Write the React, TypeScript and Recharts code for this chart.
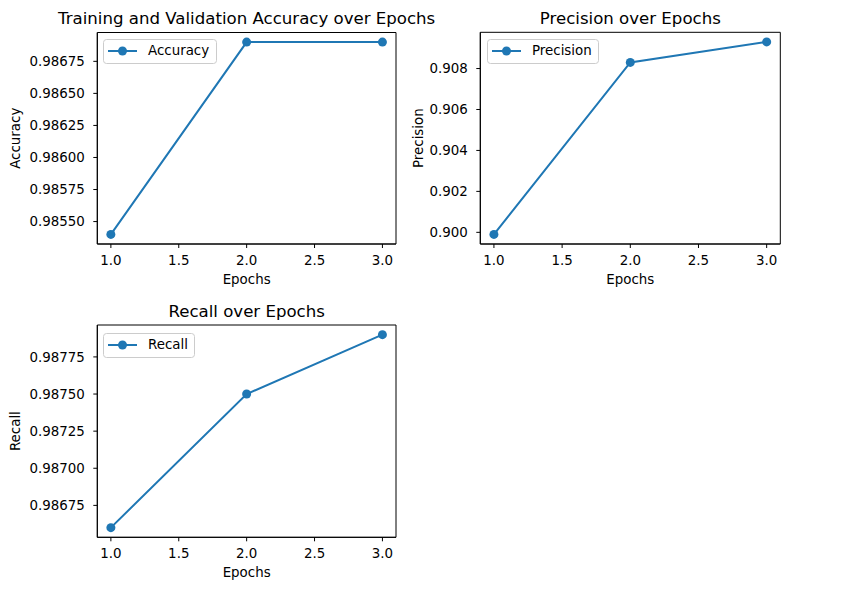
import React from 'react';
import { LineChart, Line, XAxis, YAxis, Legend, ReferenceArea } from 'recharts';

const epochs = [1, 2, 3];
const accuracy = [0.9854, 0.9869, 0.9869];
const precision = [0.8999, 0.9083, 0.9093];
const recall = [0.9866, 0.9875, 0.9879];

const xTicks = [1.0, 1.5, 2.0, 2.5, 3.0];
const accuracyTicks = [0.9855, 0.98575, 0.986, 0.98625, 0.9865, 0.98675];
const precisionTicks = [0.9, 0.902, 0.904, 0.906, 0.908];
const recallTicks = [0.98675, 0.987, 0.98725, 0.9875, 0.98775];

const W = 862;
const H = 598;
const FONT = "'DejaVu Sans', sans-serif";
const BLUE = '#1f77b4';
const TICK_FS = 13.4;
const TITLE_FS = 16.6;

type Box = { left: number; top: number; right: number; bottom: number };

interface PanelProps {
  values: number[];
  ticks: number[];
  decimals: number;
  box: Box;
  name: string;
  legend: { left: number; top: number; width: number };
}

function Panel({ values, ticks, decimals, box, name, legend }: PanelProps) {
  const data = epochs.map((e, i) => ({ epoch: e, value: values[i] }));
  const lo = Math.min(...values);
  const hi = Math.max(...values);
  const r = hi - lo;
  const yDomain: [number, number] = [lo - 0.05 * r, hi + 0.05 * r];
  const xDomain: [number, number] = [0.9, 3.1];
  const xAxisH = 30;
  const margin = {
    top: box.top,
    left: 0,
    right: W - box.right,
    bottom: H - box.bottom - xAxisH,
  };
  const tickStyle = { fill: '#000', fontSize: TICK_FS, fontFamily: FONT };
  const legendContent = () => (
    <svg width={legend.width} height={25} style={{ display: 'block' }}>
      <rect
        x={0.5}
        y={0.5}
        width={legend.width - 1}
        height={24}
        rx={3}
        fill="rgba(255,255,255,0.8)"
        stroke="#cccccc"
        strokeWidth={1}
      />
      <line x1={5} x2={34} y1={12} y2={12} stroke={BLUE} strokeWidth={2} />
      <circle cx={19.5} cy={12} r={4.5} fill={BLUE} />
      <text x={45} y={15.8} fontSize={TICK_FS} fontFamily={FONT} fill="#000">
        {name}
      </text>
    </svg>
  );
  return (
    <div style={{ position: 'absolute', left: 0, top: 0, width: W, height: H }}>
      <LineChart width={W} height={H} data={data} margin={margin}>
        <XAxis
          type="number"
          dataKey="epoch"
          domain={xDomain}
          ticks={xTicks}
          tickFormatter={(v: number) => v.toFixed(1)}
          height={xAxisH}
          tickSize={4}
          tickMargin={7}
          stroke="#000"
          tick={tickStyle}
          allowDataOverflow
          interval={0}
        />
        <YAxis
          type="number"
          domain={yDomain}
          ticks={ticks}
          tickFormatter={(v: number) => v.toFixed(decimals)}
          width={box.left}
          tickSize={4}
          tickMargin={8.5}
          stroke="#000"
          tick={tickStyle}
          allowDataOverflow
          interval={0}
        />
        <ReferenceArea
          x1={xDomain[0]}
          x2={xDomain[1]}
          y1={yDomain[0]}
          y2={yDomain[1]}
          fill="none"
          fillOpacity={0}
          stroke="#000"
          strokeWidth={1}
          strokeOpacity={1}
          ifOverflow="visible"
        />
        <Line
          type="linear"
          dataKey="value"
          name={name}
          stroke={BLUE}
          strokeWidth={2}
          dot={{ r: 4.5, fill: BLUE, stroke: BLUE, strokeWidth: 0 }}
          activeDot={false}
          isAnimationActive={false}
        />
        <Legend
          content={legendContent}
          layout="horizontal"
          verticalAlign="middle"
          align="center"
          wrapperStyle={{
            position: 'absolute',
            left: legend.left,
            top: legend.top,
            width: legend.width,
            height: 25,
          }}
        />
      </LineChart>
    </div>
  );
}

const box1: Box = { left: 97.3, top: 32.5, right: 396, bottom: 244 };
const box2: Box = { left: 480.3, top: 32.3, right: 780.3, bottom: 244 };
const box3: Box = { left: 97.3, top: 325, right: 396, bottom: 537.3 };

function Labels() {
  const t = (box: Box, title: string, ylabel: string, ylabelX: number) => {
    const cx = (box.left + box.right) / 2;
    const cy = (box.top + box.bottom) / 2;
    return (
      <g>
        <text x={cx} y={box.top - 8.5} textAnchor="middle" fontSize={TITLE_FS} fontFamily={FONT} fill="#000">
          {title}
        </text>
        <text x={cx} y={box.bottom + 40} textAnchor="middle" fontSize={TICK_FS} fontFamily={FONT} fill="#000">
          Epochs
        </text>
        <text
          transform={`translate(${ylabelX}, ${cy}) rotate(-90)`}
          textAnchor="middle"
          fontSize={TICK_FS}
          fontFamily={FONT}
          fill="#000"
        >
          {ylabel}
        </text>
      </g>
    );
  };
  return (
    <svg
      width={W}
      height={H}
      style={{ position: 'absolute', left: 0, top: 0, pointerEvents: 'none' }}
    >
      {t(box1, 'Training and Validation Accuracy over Epochs', 'Accuracy', 20)}
      {t(box2, 'Precision over Epochs', 'Precision', 423)}
      {t(box3, 'Recall over Epochs', 'Recall', 20)}
    </svg>
  );
}

export default function App() {
  return (
    <div style={{ position: 'absolute', left: 0, top: 0, width: W, height: H, background: '#fff', overflow: 'hidden' }}>
      <Panel
        values={accuracy}
        ticks={accuracyTicks}
        decimals={5}
        box={box1}
        name="Accuracy"
        legend={{ left: 103.3, top: 39.3, width: 114 }}
      />
      <Panel
        values={precision}
        ticks={precisionTicks}
        decimals={3}
        box={box2}
        name="Precision"
        legend={{ left: 487.3, top: 39.3, width: 112 }}
      />
      <Panel
        values={recall}
        ticks={recallTicks}
        decimals={5}
        box={box3}
        name="Recall"
        legend={{ left: 103.3, top: 332.7, width: 92 }}
      />
      <Labels />
    </div>
  );
}
